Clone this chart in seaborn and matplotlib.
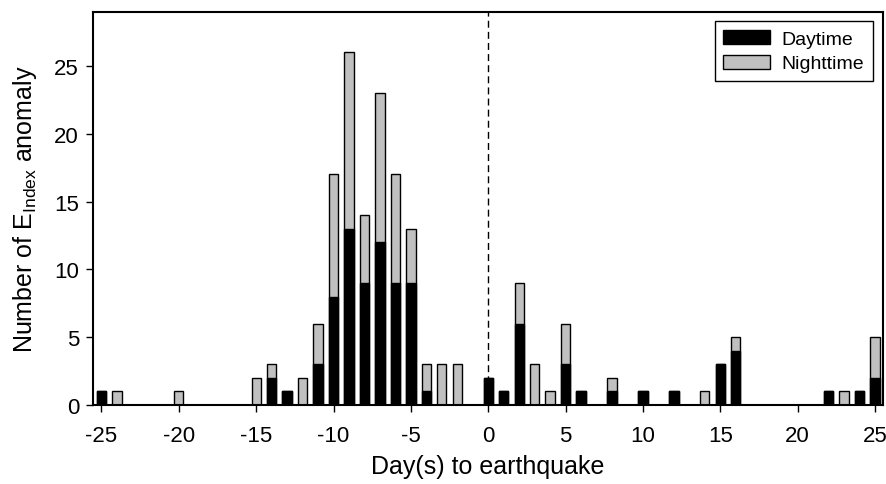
import pandas as pd
import numpy as np
import matplotlib
matplotlib.use("Agg")
import matplotlib.pyplot as plt
from matplotlib.patches import Patch
import seaborn as sns

# days relative to the earthquake that have at least one anomaly
days = [-25, -24, -20, -15, -14, -13, -12, -11, -10, -9, -8, -7, -6, -5, -4, -3, -2,
        0, 1, 2, 3, 4, 5, 6, 8, 10, 12, 14, 15, 16, 22, 23, 24, 25]
daytime = [1, 0, 0, 0, 2, 1, 0, 3, 8, 13, 9, 12, 9, 9, 1, 0, 0,
           2, 1, 6, 0, 0, 3, 1, 1, 1, 1, 0, 3, 4, 1, 0, 1, 2]
nighttime = [0, 1, 1, 2, 1, 0, 2, 3, 9, 13, 5, 11, 8, 4, 2, 3, 3,
             0, 0, 3, 3, 1, 3, 0, 1, 0, 0, 1, 0, 1, 0, 1, 0, 3]

x_ticks = list(range(-25, 26, 5))
y_ticks = list(range(0, 26, 5))

sns.set_style("ticks")
plt.rcParams['font.family'] = ['Liberation Sans', 'DejaVu Sans']
plt.rcParams['mathtext.fontset'] = 'custom'
plt.rcParams['mathtext.rm'] = 'Liberation Sans'
plt.rcParams['text.color'] = 'black'
plt.rcParams['axes.labelcolor'] = 'black'

df = pd.DataFrame({'day': days, 'daytime': daytime, 'nighttime': nighttime})
df['total'] = df['daytime'] + df['nighttime']

fig = plt.figure(figsize=(8.87, 4.85), dpi=100)
ax1 = fig.add_axes([0.1048, 0.1629, 0.8904, 0.8109])

# nighttime stacked on daytime: draw the total in grey, then daytime over it
sns.barplot(data=df, x='day', y='total', native_scale=True, color='#c0c0c0', saturation=1,
            edgecolor='black', linewidth=1.0, width=0.6, errorbar=None, ax=ax1)
day_df = df[df['daytime'] > 0]
sns.barplot(data=day_df, x='day', y='daytime', native_scale=True, color='black', saturation=1,
            edgecolor='black', linewidth=1.0, width=0.6, errorbar=None, ax=ax1)

ax1.axvline(0, color='black', linestyle=(0, (5, 3)), linewidth=1.0, zorder=0.5)

ax1.set_xlim(-25.55, 25.5)
ax1.set_ylim(0, 29)
ax1.set_xticks(x_ticks)
ax1.set_yticks(y_ticks)
ax1.set_xticklabels([str(t) for t in x_ticks])
ax1.tick_params(direction='out', length=5, width=1.0, colors='black')
ax1.tick_params(axis='x', labelsize=16, pad=9.5)
ax1.tick_params(axis='y', labelsize=16, pad=5)
for sp in ax1.spines.values():
    sp.set_visible(True)
    sp.set_linewidth(1.5)
    sp.set_color('black')

ax1.set_xlabel("Day(s) to earthquake", fontsize=18, labelpad=6)
ax1.set_ylabel(r"Number of E$_{\mathrm{Index}}$ anomaly", fontsize=18, labelpad=11)

handles = [Patch(facecolor='black', edgecolor='black', label='Daytime'),
           Patch(facecolor='#c0c0c0', edgecolor='black', label='Nighttime')]
leg = ax1.legend(handles=handles, loc='upper right', fontsize=14, fancybox=False,
                 edgecolor='black', framealpha=1, handlelength=2.4, handleheight=0.72,
                 borderaxespad=0.5, labelspacing=0.35, handletextpad=0.6, borderpad=0.45)
leg.get_frame().set_linewidth(1.0)

fig.savefig("out.png", dpi=100)
